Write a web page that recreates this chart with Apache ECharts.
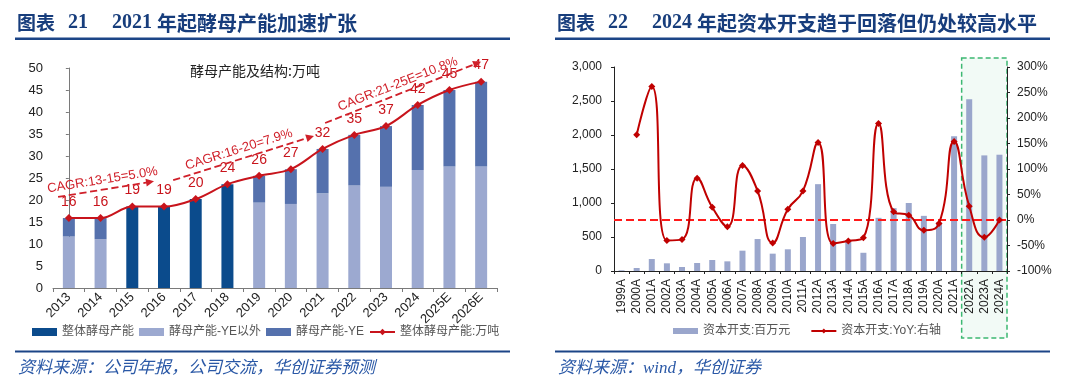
<!DOCTYPE html>
<html><head><meta charset="utf-8">
<script src="https://cdn.jsdelivr.net/npm/echarts@6/dist/echarts.min.js"></script>
<style>html,body{margin:0;padding:0;background:#fff}#c{width:1080px;height:390px}</style>
</head><body><div id="c"></div>
<script>
// ---- Left chart data ----
const years1 = ['2013','2014','2015','2016','2017','2018','2019','2020','2021','2022','2023','2024','2025E','2026E'];
const wholeYeast = [null,null,18.5,18.5,20.2,23.6,null,null,null,null,null,null,null,null];
const nonYE      = [11.7,11.1,null,null,null,null,19.4,19.1,21.5,23.3,23.0,26.8,27.6,27.6];
const yeCap      = [4.2,4.8,null,null,null,null,6.1,7.9,10.1,11.5,13.8,14.8,17.4,19.3];
const totalCap   = [15.9,15.9,18.5,18.5,20.2,23.6,25.5,27.0,31.6,34.8,36.8,41.6,45.0,46.9];
const leftAxisRange = [0, 50, 5];
const cagrText = ['CAGR:13-15=5.0%','CAGR:16-20=7.9%','CAGR:21-25E=10.8%'];
const cagrFrom = [[-0.34,20.7],[3.29,24.5],[8.08,37.5]];
const cagrTo   = [[2.56,24.1],[7.61,34.3],[12.88,51.1]];

// ---- Right chart data ----
const years2 = ['1999A','2000A','2001A','2002A','2003A','2004A','2005A','2006A','2007A','2008A','2009A','2010A','2011A','2012A','2013A','2014A','2015A','2016A','2017A','2018A','2019A','2020A','2021A','2022A','2023A','2024A'];
const capex    = [10,44,176,113,59,118,162,142,299,470,255,319,500,1277,691,426,268,782,924,1000,811,715,1980,2524,1700,1710];
const capexYoY = [null,167,262,-40,-38,82,25,-13,107,57,-45,21,57,152,-46,-41,-35,189,16,9.5,-20,-7,154,27,-34,0];
const capexAxisRange = [0, 3000, 500];
const yoyAxisRange = [-100, 300, 50];
const highlightFrom = '2022A', highlightTo = '2024A';

const navy = '#173d7c';
const lineBlue = '#1c4587';
const red = '#c8141c';
const sans = "'Liberation Sans','Noto Sans CJK SC',sans-serif";
const cjk = "'Noto Sans CJK SC',sans-serif";
const serif = "'Liberation Serif','Noto Sans CJK SC',serif";

function titleRich() {
  return {
    a: {fontFamily: cjk, fontWeight: 'bold', fontSize: 19, color: navy, lineHeight: 26},
    n1: {fontFamily: serif, fontWeight: 'bold', fontSize: 20, color: navy, lineHeight: 26, padding: [0,0,0,13]},
    n2: {fontFamily: serif, fontWeight: 'bold', fontSize: 20, color: navy, lineHeight: 26, padding: [0,0,0,24]},
    b: {fontFamily: cjk, fontWeight: 'bold', fontSize: 20, color: navy, lineHeight: 26, padding: [0,0,0,5]}
  };
}
const sourceStyle = {fontSize: 17, fontStyle: 'italic', fontWeight: 'normal', color: '#2a58a6', fontFamily: serif, lineHeight: 18};

const baseGraphics = [
  {type: 'rect', shape: {x: 15, y: 37.5, width: 495, height: 2.6}, style: {fill: lineBlue}},
  {type: 'rect', shape: {x: 555, y: 37.5, width: 495, height: 2.6}, style: {fill: lineBlue}},
  {type: 'rect', shape: {x: 15, y: 350.5, width: 495, height: 2}, style: {fill: lineBlue}},
  {type: 'rect', shape: {x: 555, y: 350.5, width: 495, height: 2}, style: {fill: lineBlue}}
];

const chart = echarts.init(document.getElementById('c'), null, {renderer: 'canvas'});
const option = {
  animation: false,
  backgroundColor: '#fff',
  textStyle: {fontFamily: sans},
  title: [
    {left: 17, top: 10, padding: 0, text: '{a|图表}{n1|21}{n2|2021}{b|年起酵母产能加速扩张}', textStyle: {rich: titleRich()}},
    {left: 190, top: 63, padding: 0, text: '酵母产能及结构:万吨', textStyle: {fontSize: 14, fontWeight: 'normal', color: '#222', fontFamily: cjk, lineHeight: 16}},
    {left: 18, top: 360, padding: 0, text: '资料来源：公司年报，公司交流，华创证券预测', textStyle: sourceStyle},
    {left: 557, top: 10, padding: 0, text: '{a|图表}{n1|22}{n2|2024}{b|年起资本开支趋于回落但仍处较高水平}', textStyle: {rich: titleRich()}},
    {left: 558, top: 360, padding: 0, text: '资料来源：wind，华创证券', textStyle: sourceStyle}
  ],
  graphic: baseGraphics,
  legend: [
    {left: 32, top: 326, padding: 0, itemWidth: 25, itemHeight: 8, itemGap: 5,
     textStyle: {fontSize: 12, color: '#555', fontFamily: sans},
     data: [{name: '整体酵母产能', icon: 'rect'}, {name: '酵母产能-YE以外', icon: 'rect'}, {name: '酵母产能-YE', icon: 'rect'}, {name: '整体酵母产能:万吨'}]},
    {left: 673, top: 325, padding: 0, itemWidth: 25, itemHeight: 6, itemGap: 20,
     textStyle: {fontSize: 12, color: '#555', fontFamily: sans},
     data: [{name: '资本开支:百万元', icon: 'rect'}, {name: '资本开支:YoY:右轴'}]}
  ],
  grid: [
    {left: 53, top: 68, width: 444, height: 220, outerBoundsMode: 'none'},
    {left: 614, top: 67, width: 393, height: 204, outerBoundsMode: 'none'}
  ],
  xAxis: [
    {type: 'category', gridIndex: 0, data: years1,
     axisLine: {lineStyle: {color: '#7a7a7a'}},
     axisTick: {show: true, length: 4, lineStyle: {color: '#7a7a7a'}},
     axisLabel: {rotate: 45, color: '#222', fontSize: 13, margin: 7, interval: 0}},
    {type: 'value', gridIndex: 0, min: -0.5, max: 13.5, show: false},
    {type: 'category', gridIndex: 1, data: years2,
     axisLine: {lineStyle: {color: '#222'}},
     axisTick: {show: true, length: 3, lineStyle: {color: '#222'}},
     axisLabel: {rotate: 90, color: '#222', fontSize: 12, margin: 8, interval: 0}}
  ],
  yAxis: [
    {type: 'value', gridIndex: 0, min: leftAxisRange[0], max: leftAxisRange[1], interval: leftAxisRange[2],
     axisLine: {show: true, lineStyle: {color: '#7a7a7a'}},
     axisTick: {show: true, length: 3, lineStyle: {color: '#7a7a7a'}},
     splitLine: {show: false},
     axisLabel: {fontSize: 13, color: '#222', margin: 10}},
    {type: 'value', gridIndex: 1, min: capexAxisRange[0], max: capexAxisRange[1], interval: capexAxisRange[2],
     axisLine: {show: true, lineStyle: {color: '#222'}},
     axisTick: {show: true, length: 3, lineStyle: {color: '#222'}},
     splitLine: {show: false},
     axisLabel: {fontSize: 12, color: '#222', margin: 12, formatter: v => v.toLocaleString('en-US')}},
    {type: 'value', gridIndex: 1, position: 'right', min: yoyAxisRange[0], max: yoyAxisRange[1], interval: yoyAxisRange[2],
     axisLine: {show: true, lineStyle: {color: '#222'}},
     axisTick: {show: true, length: 3, lineStyle: {color: '#222'}},
     splitLine: {show: false},
     axisLabel: {fontSize: 12, color: '#222', margin: 10, formatter: '{value}%'}}
  ],
  series: [
    {name: '整体酵母产能', type: 'bar', xAxisIndex: 0, yAxisIndex: 0, stack: 's', barWidth: 12, data: wholeYeast, itemStyle: {color: '#0b4b8c'}},
    {name: '酵母产能-YE以外', type: 'bar', xAxisIndex: 0, yAxisIndex: 0, stack: 's', barWidth: 12, data: nonYE, itemStyle: {color: '#9ca9d0'}},
    {name: '酵母产能-YE', type: 'bar', xAxisIndex: 0, yAxisIndex: 0, stack: 's', barWidth: 12, data: yeCap, itemStyle: {color: '#5571ad'}},
    {name: '整体酵母产能:万吨', type: 'line', xAxisIndex: 0, yAxisIndex: 0, data: totalCap, smooth: 0.35,
     symbol: 'diamond', symbolSize: 8, itemStyle: {color: red}, lineStyle: {color: red, width: 2}, z: 5,
     label: {show: true, position: 'top', fontSize: 14, color: red, formatter: p => Math.round(p.value)}},
    {name: 'cagr', type: 'lines', coordinateSystem: 'cartesian2d', xAxisIndex: 1, yAxisIndex: 0, clip: false, z: 6,
     symbol: ['none', 'triangle'], symbolSize: 8,
     lineStyle: {color: '#d0202a', width: 1.8, type: 'dashed', opacity: 1, curveness: 0},
     label: {show: true, color: '#d0202a', fontSize: 13, distance: 3},
     data: cagrText.map((t, i) => ({coords: [cagrFrom[i], cagrTo[i]],
       label: {formatter: t, position: i === 2 ? 'middle' : 'insideMiddleTop'}}))},
    {name: '资本开支:百万元', type: 'bar', xAxisIndex: 2, yAxisIndex: 1, barWidth: 6, data: capex, itemStyle: {color: '#9aa6cc'}},
    {name: '资本开支:YoY:右轴', type: 'line', xAxisIndex: 2, yAxisIndex: 2, data: capexYoY, smooth: 0.5, connectNulls: true,
     symbol: 'diamond', symbolSize: 7, itemStyle: {color: '#c00000'}, lineStyle: {color: '#c00000', width: 2}, z: 5,
     markLine: {silent: true, symbol: ['none', 'none'], label: {show: false},
       lineStyle: {color: '#ff1a1a', type: 'dashed', width: 2}, data: [{yAxis: 0}]}}
  ]
};
chart.setOption(option);

const pA = chart.convertToPixel({xAxisIndex: 2}, highlightFrom);
const pB = chart.convertToPixel({xAxisIndex: 2}, highlightTo);
const step = (pB - pA) / 2;
const box = {type: 'rect', z: -10,
  shape: {x: pA - step / 2, y: 58, width: pB - pA + step, height: 280},
  style: {fill: '#f2faf6', stroke: '#3db872', lineWidth: 1.5, lineDash: [5, 3]}};
chart.setOption({graphic: baseGraphics.concat([box])});
</script>
</body></html>
